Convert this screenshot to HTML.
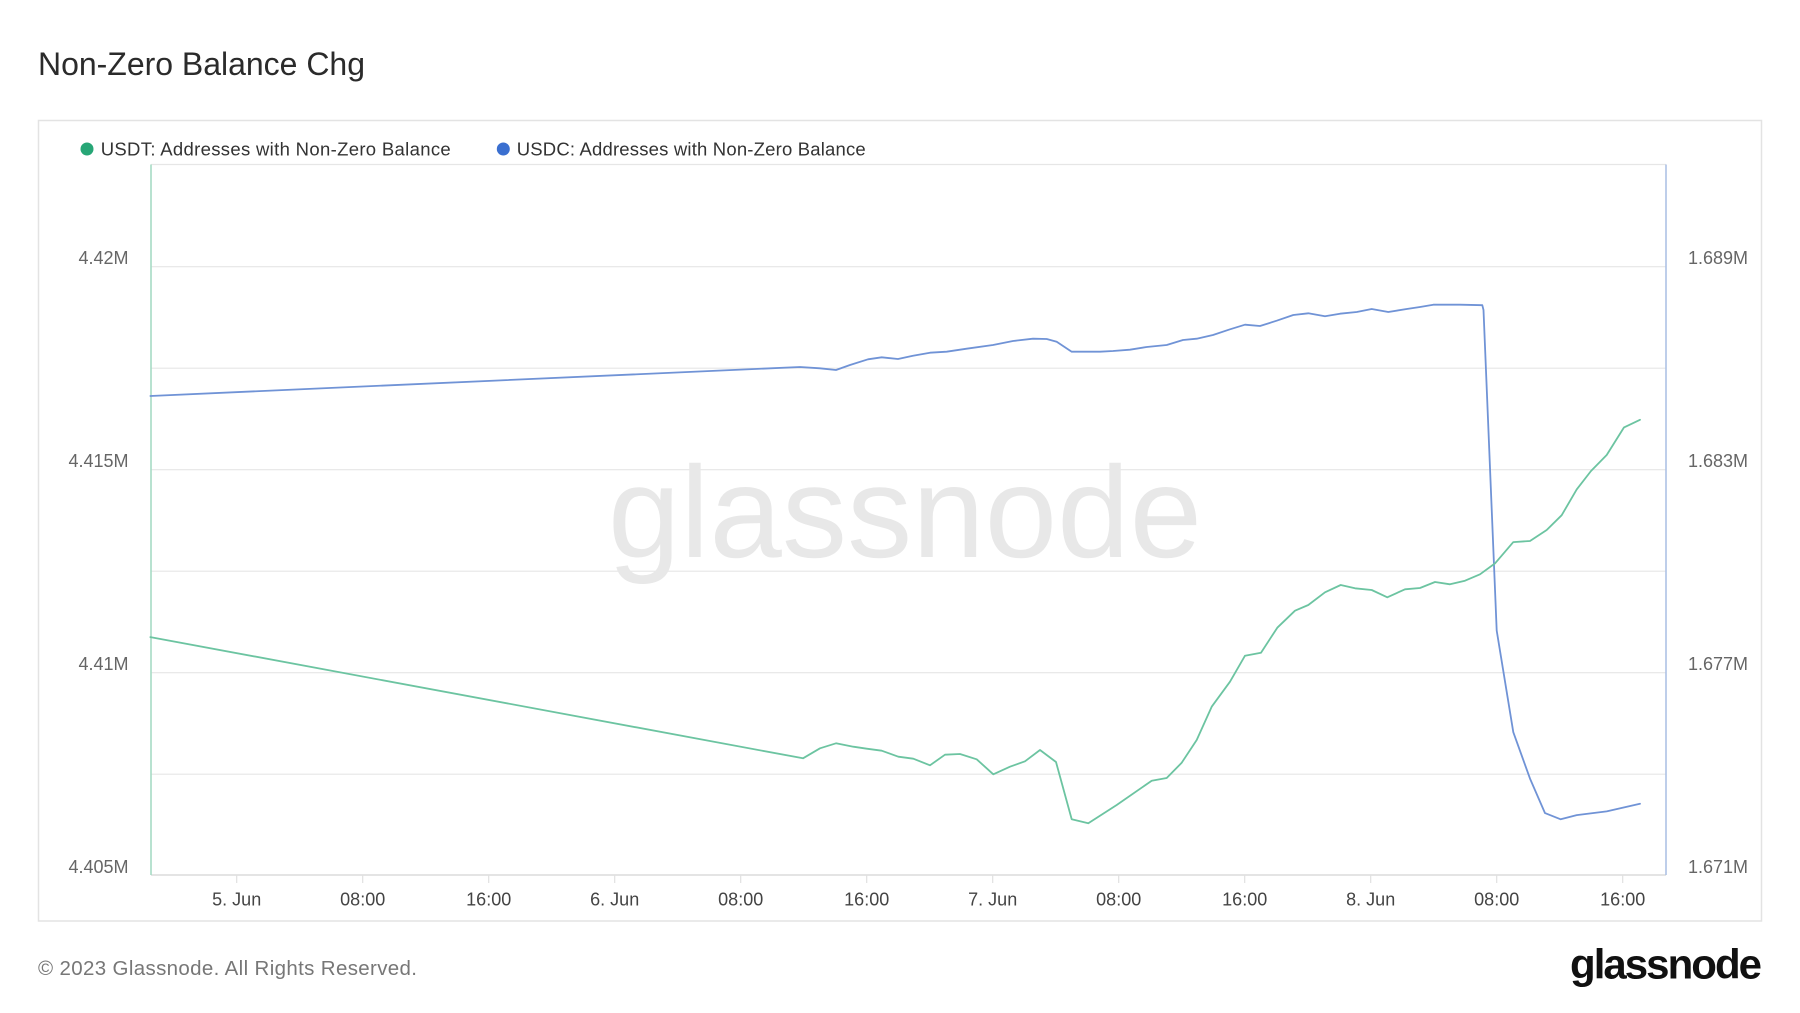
<!DOCTYPE html>
<html>
<head>
<meta charset="utf-8">
<style>
  html, body { margin: 0; padding: 0; background: #ffffff; }
  body { width: 1800px; height: 1013px; overflow: hidden; }
  svg { display: block; }
  text { font-family: "Liberation Sans", "DejaVu Sans", sans-serif; }
</style>
</head>
<body>
<svg width="1800" height="1013" viewBox="0 0 1800 1013" xmlns="http://www.w3.org/2000/svg">
  <rect x="0" y="0" width="1800" height="1013" fill="#ffffff"/>

  <!-- Title -->
  <text x="38" y="75" font-size="32" fill="#2b2b2b" textLength="327">Non-Zero Balance Chg</text>

  <!-- Chart box -->
  <rect x="38.5" y="120.5" width="1723" height="800.5" fill="#ffffff" stroke="#e3e3e3" stroke-width="1.5"/>

  <!-- Legend -->
  <circle cx="87" cy="149" r="6.5" fill="#27a676"/>
  <text x="100.7" y="155.7" font-size="18.5" fill="#333333" textLength="350">USDT: Addresses with Non-Zero Balance</text>
  <circle cx="503.3" cy="149" r="6.5" fill="#3a6fd0"/>
  <text x="516.7" y="155.7" font-size="18.5" fill="#333333" textLength="349">USDC: Addresses with Non-Zero Balance</text>

  <!-- Gridlines -->
  <g stroke="#e6e6e6" stroke-width="1.2">
    <line x1="151" y1="164.5" x2="1666" y2="164.5"/>
    <line x1="151" y1="266.7" x2="1666" y2="266.7"/>
    <line x1="151" y1="368.2" x2="1666" y2="368.2"/>
    <line x1="151" y1="469.7" x2="1666" y2="469.7"/>
    <line x1="151" y1="571.2" x2="1666" y2="571.2"/>
    <line x1="151" y1="672.7" x2="1666" y2="672.7"/>
    <line x1="151" y1="774.2" x2="1666" y2="774.2"/>
  </g>
  <line x1="151" y1="875" x2="1666" y2="875" stroke="#dcdcdc" stroke-width="1.5"/>

  <!-- Watermark -->
  <text x="608" y="557" font-size="130" fill="#e8e8e8" textLength="594">glassnode</text>

  <!-- X ticks -->
  <g stroke="#e0e0e0" stroke-width="1.2">
    <line x1="236.7" y1="875" x2="236.7" y2="883"/>
    <line x1="362.7" y1="875" x2="362.7" y2="883"/>
    <line x1="488.7" y1="875" x2="488.7" y2="883"/>
    <line x1="614.7" y1="875" x2="614.7" y2="883"/>
    <line x1="740.7" y1="875" x2="740.7" y2="883"/>
    <line x1="866.7" y1="875" x2="866.7" y2="883"/>
    <line x1="992.7" y1="875" x2="992.7" y2="883"/>
    <line x1="1118.7" y1="875" x2="1118.7" y2="883"/>
    <line x1="1244.7" y1="875" x2="1244.7" y2="883"/>
    <line x1="1370.7" y1="875" x2="1370.7" y2="883"/>
    <line x1="1496.7" y1="875" x2="1496.7" y2="883"/>
    <line x1="1622.7" y1="875" x2="1622.7" y2="883"/>
  </g>
  <g font-size="18" fill="#444444" text-anchor="middle">
    <text x="236.7" y="905.7">5. Jun</text>
    <text x="362.7" y="905.7">08:00</text>
    <text x="488.7" y="905.7">16:00</text>
    <text x="614.7" y="905.7">6. Jun</text>
    <text x="740.7" y="905.7">08:00</text>
    <text x="866.7" y="905.7">16:00</text>
    <text x="992.7" y="905.7">7. Jun</text>
    <text x="1118.7" y="905.7">08:00</text>
    <text x="1244.7" y="905.7">16:00</text>
    <text x="1370.7" y="905.7">8. Jun</text>
    <text x="1496.7" y="905.7">08:00</text>
    <text x="1622.7" y="905.7">16:00</text>
  </g>

  <!-- Left axis labels -->
  <g font-size="18" fill="#666666" text-anchor="end">
    <text x="128.5" y="264.2">4.42M</text>
    <text x="128.5" y="467.2">4.415M</text>
    <text x="128.5" y="670.2">4.41M</text>
    <text x="128.5" y="872.8">4.405M</text>
  </g>
  <!-- Right axis labels -->
  <g font-size="18" fill="#666666" text-anchor="start">
    <text x="1688" y="264.2">1.689M</text>
    <text x="1688" y="467.2">1.683M</text>
    <text x="1688" y="670.2">1.677M</text>
    <text x="1688" y="872.8">1.671M</text>
  </g>

  <!-- Axis lines -->
  <line x1="151" y1="164.5" x2="151" y2="875" stroke="#a6dbc4" stroke-width="1.6"/>
  <line x1="1666" y1="164.5" x2="1666" y2="875" stroke="#adc1e4" stroke-width="1.6"/>

  <!-- USDC series (blue) -->
  <polyline fill="none" stroke="#7093d6" stroke-width="1.8" stroke-linejoin="round" stroke-linecap="round"
    points="150.4,396 800,367 820,368.3 836,370 850,365 868,359.3 881.7,357.3 898,359 913,355.7 930,352.7 946.7,351.7 966.7,348.7 993,345 1013,341 1033,338.7 1046.7,339 1056.7,341.7 1071.7,351.7 1100,351.7 1113,351 1130,349.7 1146.7,347 1166.7,345 1183,340 1196.7,338.7 1213,335 1230,329.3 1245,324.7 1260,326 1276.7,320.7 1293.3,315 1308.3,313.3 1325,316.3 1340,313.7 1356.7,312 1371.7,309 1388.3,312 1406.7,309 1420,307 1433.3,304.7 1460,304.7 1482.3,305.2 1483.5,310 1496.7,630.6 1513.3,732.2 1530,778.6 1545,813.1 1560.7,819.3 1576.7,815.1 1606.7,811.4 1640,803.8"/>

  <!-- USDT series (green) -->
  <polyline fill="none" stroke="#6cc4a1" stroke-width="1.8" stroke-linejoin="round" stroke-linecap="round"
    points="150.4,637.1 803,758.3 820,748.3 836,743.3 853.3,746.7 866.7,748.7 881.7,750.7 898.3,756.7 913.3,758.7 930,765.3 945,754.7 960,754 976.7,759.3 993.3,774.3 1010,766.7 1025,761.3 1040,750 1056,762 1071.7,819.3 1088.3,823.3 1116.7,805 1151.7,780.7 1166.7,778 1181.7,762.7 1196.7,740 1211.7,706.7 1230,681.7 1245,655.7 1261,652.7 1277.3,627.7 1295,610.7 1308.3,605 1325,592.3 1340.7,585 1355,588.3 1371.7,590 1387.3,597.3 1405,589.3 1420,588 1435,582 1450,584.3 1465,580.7 1480,574.3 1495,563.4 1513.3,542.1 1530,541 1546.7,530 1561.7,515.2 1576.7,489.4 1591,471 1606.7,455 1624,427.4 1640,419.8"/>

  <!-- Footer -->
  <text x="38" y="975" font-size="20.5" fill="#777777" textLength="379">© 2023 Glassnode. All Rights Reserved.</text>
  <text x="1570" y="978.3" font-size="42" font-weight="bold" fill="#111111" textLength="192">glassnode</text>
</svg>
</body>
</html>
